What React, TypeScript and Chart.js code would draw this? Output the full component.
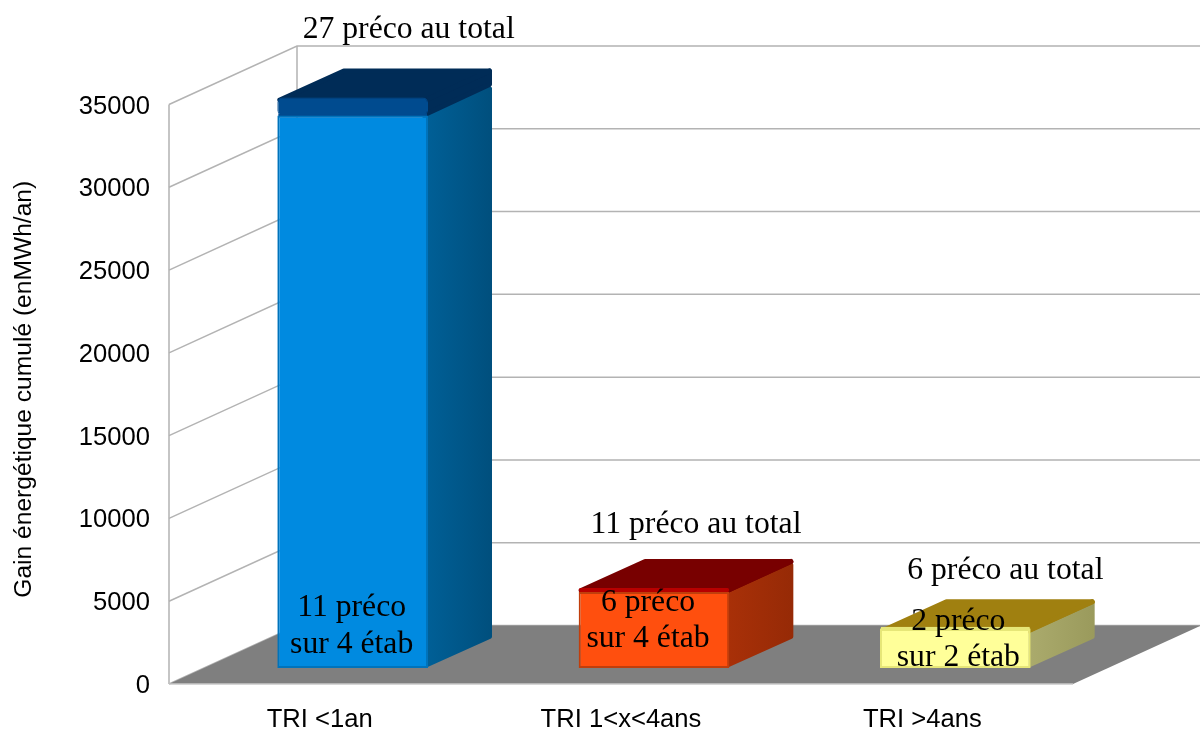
import React, { useEffect, useRef } from "react";
import { Chart, registerables } from "chart.js";

Chart.register(...registerables);

const categories = ["TRI <1an", "TRI 1<x<4ans", "TRI >4ans"];
const bodyValues = [33370, 4595, 2360];
const capValues = [1090, 240, 40];
const yTitle = "Gain énergétique cumulé (enMWh/an)";
const totalLabels = ["27 préco au total", "11 préco au total", "6 préco au total"];
const innerLabels = [
  ["11 préco", "sur 4 étab"],
  ["6 préco", "sur 4 étab"],
  ["2 préco", "sur 2 étab"],
];

const bodyColors = ["#008ae0", "#ff4f0e", "#ffff99"];
const bodyEdges = ["#0073bb", "#c03e0c", "#e6e678"];
const capColors = ["#004b8f", "#b80000", "#e6e678"];
const topColors = ["#002c57", "#780000", "#a08010"];
const sideFrom = ["#005f96", "#a83008", "#aaaa6c"];
const sideTo = ["#004f7d", "#962a06", "#9a9a5c"];
const GRID = "#b3b3b3";
const FLOOR = "#7f7f7f";

const WALL = { x: 128, y: -58.5 };
const BAR_SHIFT = { x: 33, y: -16 };
const BAR_DEPTH = { x: 64, y: -29 };
const TOTAL_OFFSET = [
  { x: 56, y: -68 },
  { x: 42, y: -63 },
  { x: 50, y: -58 },
];
const INNER_OFFSET = [
  { x: -1, y: 608, gap: 37 },
  { x: -6, y: 603, gap: 36 },
  { x: 3, y: 622, gap: 36 },
];

const poly = (ctx: CanvasRenderingContext2D, pts: number[][]) => {
  ctx.beginPath();
  pts.forEach((p, i) => (i ? ctx.lineTo(p[0], p[1]) : ctx.moveTo(p[0], p[1])));
  ctx.closePath();
};

const shiftDraw = (scale: any, method: string, dy: number) => {
  const orig = scale[method];
  scale[method] = function (...args: any[]) {
    const c = this.ctx;
    c.save();
    c.translate(0, dy);
    orig.apply(this, args);
    c.restore();
  };
};

const box3d = {
  id: "box3d",
  beforeDraw(chart: any) {
    const yS = chart.scales.y;
    if (!yS.$shifted) {
      yS.$shifted = true;
      shiftDraw(yS, "drawLabels", 2);
      shiftDraw(yS, "drawTitle", -5);
    }
  },
  beforeDatasetsDraw(chart: any) {
    const { ctx, scales, chartArea } = chart;
    const yS = scales.y;
    const { left, right } = chartArea;
    const y0 = yS.getPixelForValue(0);
    ctx.save();
    ctx.strokeStyle = GRID;
    ctx.lineWidth = 1.5;
    yS.ticks.forEach((t: any) => {
      const y = yS.getPixelForValue(t.value);
      ctx.beginPath();
      ctx.moveTo(left, y);
      ctx.lineTo(left + WALL.x, y + WALL.y);
      ctx.lineTo(right + WALL.x, y + WALL.y);
      ctx.stroke();
    });
    ctx.beginPath();
    ctx.moveTo(left, yS.getPixelForValue(35000));
    ctx.lineTo(left, y0);
    ctx.moveTo(left + WALL.x, yS.getPixelForValue(35000) + WALL.y);
    ctx.lineTo(left + WALL.x, y0 + WALL.y);
    ctx.stroke();
    ctx.fillStyle = FLOOR;
    poly(ctx, [
      [left, y0],
      [right, y0],
      [right + WALL.x, y0 + WALL.y],
      [left + WALL.x, y0 + WALL.y],
    ]);
    ctx.fill();
    ctx.beginPath();
    ctx.strokeStyle = "#c8c8c8";
    ctx.moveTo(left, y0);
    ctx.lineTo(right, y0);
    ctx.stroke();
    ctx.restore();

    // everything from here to afterDatasetsDraw sits at the bars' depth
    ctx.save();
    ctx.translate(BAR_SHIFT.x, BAR_SHIFT.y);
    const body = chart.getDatasetMeta(0).data;
    const cap = chart.getDatasetMeta(1).data;
    body.forEach((b: any, i: number) => {
      const c = cap[i];
      const r = b.x + b.width / 2;
      const l = b.x - b.width / 2;
      const g = ctx.createLinearGradient(r, 0, r + BAR_DEPTH.x, 0);
      g.addColorStop(0, sideFrom[i]);
      g.addColorStop(1, sideTo[i]);
      ctx.lineJoin = "round";
      ctx.lineWidth = 5;
      const face = (pts: number[][], col: any) => {
        ctx.fillStyle = col;
        ctx.strokeStyle = col;
        poly(ctx, pts);
        ctx.fill();
        ctx.stroke();
      };
      face(
        [
          [r - 3, b.y + 2],
          [r + BAR_DEPTH.x - 2.5, b.y + BAR_DEPTH.y + 2],
          [r + BAR_DEPTH.x - 2.5, b.base + BAR_DEPTH.y - 2.5],
          [r - 3, b.base - 2.5],
        ],
        g
      );
      const capTop = c.y + 2.5;
      face(
        [
          [r - 3, capTop],
          [r + BAR_DEPTH.x - 2.5, capTop + BAR_DEPTH.y],
          [r + BAR_DEPTH.x - 2.5, Math.max(capTop, c.base - 2) + BAR_DEPTH.y],
          [r - 3, Math.max(capTop, c.base - 1)],
        ],
        topColors[i]
      );
      face(
        [
          [l + 2.5, capTop],
          [r - 2, capTop],
          [r + BAR_DEPTH.x - 2.5, capTop + BAR_DEPTH.y],
          [l + BAR_DEPTH.x + 2.5, capTop + BAR_DEPTH.y],
        ],
        topColors[i]
      );
      // seam behind the join of the two stacked fronts
      ctx.fillStyle = capColors[i];
      ctx.fillRect(l + 1, c.base - 2, b.width - 2, 4);
    });
  },
  afterDatasetsDraw(chart: any) {
    const { ctx } = chart;
    ctx.restore();
    const cap = chart.getDatasetMeta(1).data;
    ctx.save();
    ctx.fillStyle = "#000";
    ctx.font = "31.7px 'Liberation Serif'";
    ctx.textAlign = "center";
    ctx.textBaseline = "middle";
    cap.forEach((c: any, i: number) => {
      const x = c.x + BAR_SHIFT.x;
      ctx.fillText(totalLabels[i], x + TOTAL_OFFSET[i].x, c.y + BAR_SHIFT.y + TOTAL_OFFSET[i].y);
      innerLabels[i].forEach((t, k) => {
        ctx.fillText(t, x + INNER_OFFSET[i].x, INNER_OFFSET[i].y + k * INNER_OFFSET[i].gap);
      });
    });
    ctx.restore();
  },
};

export default function App() {
  const ref = useRef<HTMLCanvasElement>(null);
  useEffect(() => {
    if (!ref.current) return;
    const shared = {
      barPercentage: 0.5,
      categoryPercentage: 1,
      clip: false,
      borderRadius: 5,
      borderSkipped: false,
    };
    const chart = new Chart(ref.current, {
      type: "bar",
      data: {
        labels: categories,
        datasets: [
          { label: "Gain", data: bodyValues, backgroundColor: bodyColors, borderColor: bodyEdges, borderWidth: 2, ...shared },
          { label: "Reste", data: capValues, backgroundColor: capColors, borderColor: capColors, borderWidth: 1, ...shared },
        ],
      },
      plugins: [box3d],
      options: {
        animation: false,
        responsive: false,
        layout: { padding: { top: 104.5, right: 127, left: 0, bottom: 0 } },
        plugins: { legend: { display: false }, tooltip: { enabled: false }, title: { display: false } },
        scales: {
          x: {
            stacked: true,
            grid: { display: false, drawTicks: false },
            border: { display: false },
            ticks: {
              color: "#000",
              padding: 21,
              maxRotation: 0,
              autoSkip: false,
              font: { family: "'Liberation Sans'", size: 25.6 },
            },
            afterFit: (s: any) => {
              s.height = 47;
            },
          },
          y: {
            stacked: true,
            min: 0,
            max: 35000,
            grid: { display: false, drawTicks: false },
            border: { display: false },
            ticks: {
              stepSize: 5000,
              color: "#000",
              padding: 19,
              callback: (v: any) => String(v),
              font: { family: "'Liberation Sans'", size: 25.6 },
            },
            title: {
              display: true,
              text: yTitle,
              color: "#000",
              padding: { top: 9, bottom: 0 },
              font: { family: "'Liberation Sans'", size: 24.6, weight: "normal" },
            },
            afterFit: (s: any) => {
              s.width = 169;
            },
          },
        },
      },
    } as any);
    return () => chart.destroy();
  }, []);
  return (
    <div style={{ position: "absolute", left: 0, top: 0, width: 1200, height: 731 }}>
      <canvas ref={ref} width={1200} height={731} style={{ display: "block" }} />
    </div>
  );
}
